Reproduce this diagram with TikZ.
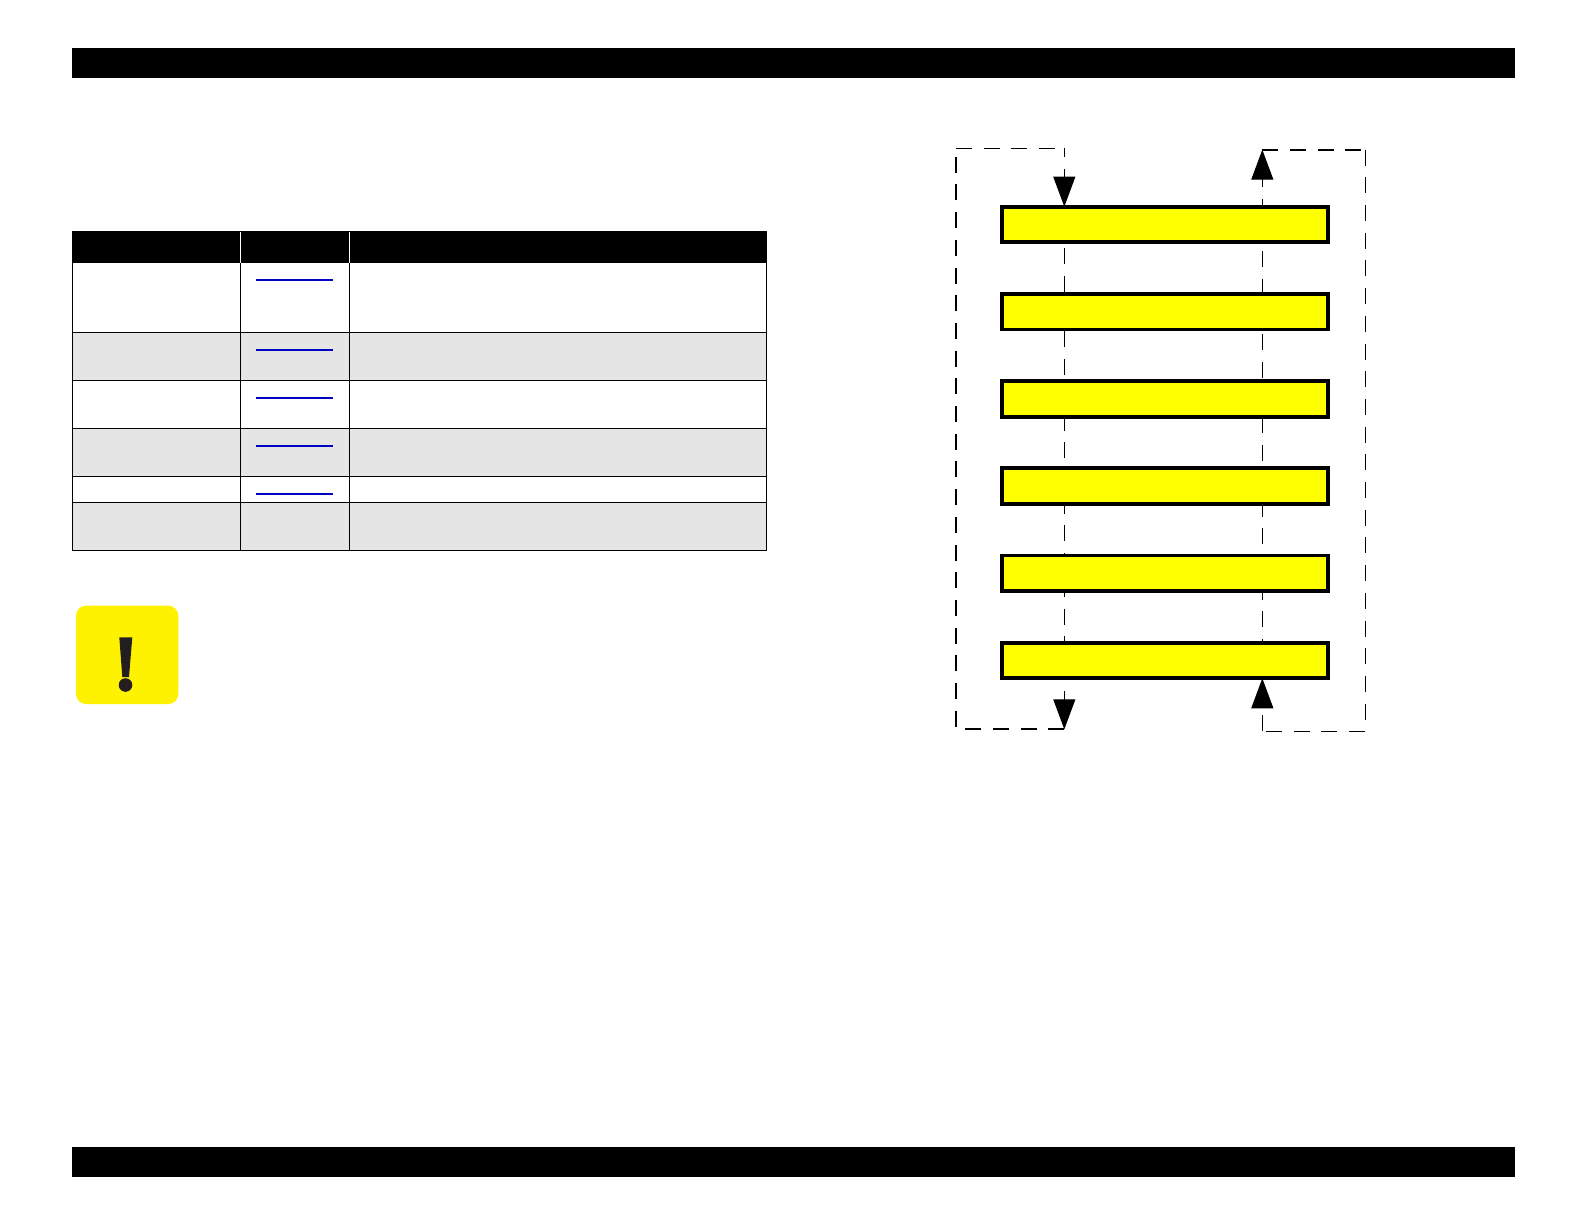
\documentclass[tikz,border=0pt]{standalone}
\usepackage{tikz}
\usetikzlibrary{positioning, arrows.meta, backgrounds}

\definecolor{linkblue}{HTML}{0000C4}
\definecolor{rowgrey}{HTML}{E5E5E5}
\definecolor{signyellow}{HTML}{FFF200}
\definecolor{signink}{HTML}{231F20}
\definecolor{stageyellow}{RGB}{255,255,0}

\tikzset{
    stagebox/.style={draw=black, fill=stageyellow, line width=1.85pt, outer sep=0pt, inner sep=0pt,
        minimum width=163.15pt, minimum height=17.8pt},
    thinflow/.style={line width=0.5pt, dash pattern=on 8pt off 5.85pt},
    thickflow/.style={line width=0.85pt, dash pattern=on 8pt off 5.85pt},
    flowtip/.style={-{Triangle[length=15pt, width=11pt]}},
    tablerule/.style={line width=0.55pt},
    linkrule/.style={draw=linkblue, line width=0.85pt}
}

\begin{document}
\begin{tikzpicture}[x=0.5pt, y=-0.5pt]
        \useasboundingbox (0,0) rectangle (1584,1224);

        % page bars
        \fill[black] (72,48) rectangle (1515,78);
        \fill[black] (72,1147) rectangle (1515,1177);

        % table
        \fill[rowgrey] (72.5,332.3) rectangle (766.3,380.3);
        \fill[rowgrey] (72.5,428.3) rectangle (766.3,476.3);
        \fill[rowgrey] (72.5,502.3) rectangle (766.3,550.3);
        \fill[black] (72,231) rectangle (766.8,262.7);
        \draw[tablerule, white] (240.3,232) -- (240.3,262.7);
        \draw[tablerule, white] (349.3,232) -- (349.3,262.7);
        \draw[tablerule] (72.5,262.7) -- (72.5,550.3);
        \draw[tablerule] (240.3,262.7) -- (240.3,550.3);
        \draw[tablerule] (349.3,262.7) -- (349.3,550.3);
        \draw[tablerule] (766.3,262.7) -- (766.3,550.3);
        \draw[tablerule] (72,332.3) -- (766.8,332.3);
        \draw[tablerule] (72,380.3) -- (766.8,380.3);
        \draw[tablerule] (72,428.3) -- (766.8,428.3);
        \draw[tablerule] (72,476.3) -- (766.8,476.3);
        \draw[tablerule] (72,502.3) -- (766.8,502.3);
        \draw[tablerule] (72,550.3) -- (766.8,550.3);
        \draw[linkrule] (256,280) -- (333,280);
        \draw[linkrule] (256,350) -- (333,350);
        \draw[linkrule] (256,398) -- (333,398);
        \draw[linkrule] (256,446) -- (333,446);
        \draw[linkrule] (256,494) -- (333,494);

        % caution sign
        \fill[signyellow, rounded corners=5pt] (76,605.7) rectangle (178.3,704);
        \fill[signink] (119.3,637.3) -- (132.3,637.3) -- (129,677) -- (122.3,677) -- cycle;
        \fill[signink] (125.5,685) circle (3.4pt);

        % stages
        \node[stagebox] (stageA) at (1164.85,224.5) {};
        \node[stagebox, below = 25.8pt of stageA] (stageB) {};
        \node[stagebox, below = 25.8pt of stageB] (stageC) {};
        \node[stagebox, below = 25.8pt of stageC] (stageD) {};
        \node[stagebox, below = 25.8pt of stageD] (stageE) {};
        \node[stagebox, below = 25.8pt of stageE] (stageF) {};

        % corners of the two loops
        \coordinate (leftTop) at (1064.3,148.3);
        \coordinate (leftTopOut) at (956,148.3);
        \coordinate (leftBot) at (1064.3,729.3);
        \coordinate (leftBotOut) at (956,729.3);
        \coordinate (rightTop) at (1262.3,149.7);
        \coordinate (rightTopOut) at (1365.3,149.7);
        \coordinate (rightBot) at (1262.3,731);
        \coordinate (rightBotOut) at (1365.3,731);

        \begin{scope}[on background layer]
            \draw[thinflow, dash phase=10.8pt] (stageA.south -| leftTop) -- (stageF.north -| leftTop);
            \draw[thinflow, dash phase=9.35pt] (stageA.south -| rightTop) -- (stageF.north -| rightTop);
        \end{scope}

        \draw[thickflow] (leftBot) -- (leftBotOut) -- (leftTopOut);
        \draw[thinflow] (leftTopOut) -- (leftTop);
        \draw[thinflow, flowtip, dash phase=3.5pt] (leftTop) -- (stageA.north -| leftTop);
        \draw[thinflow, flowtip, dash phase=7.4pt] (stageF.south -| leftBot) -- (leftBot);

        \draw[thinflow, flowtip, dash phase=4pt] (stageA.north -| rightTop) -- (rightTop);
        \draw[thickflow] (rightTop) -- (rightTopOut);
        \draw[thinflow] (rightTopOut) -- (rightBotOut) -- (rightBot);
        \draw[thinflow, flowtip] (rightBot) -- (stageF.south -| rightBot);
    \end{tikzpicture}
\end{document}
